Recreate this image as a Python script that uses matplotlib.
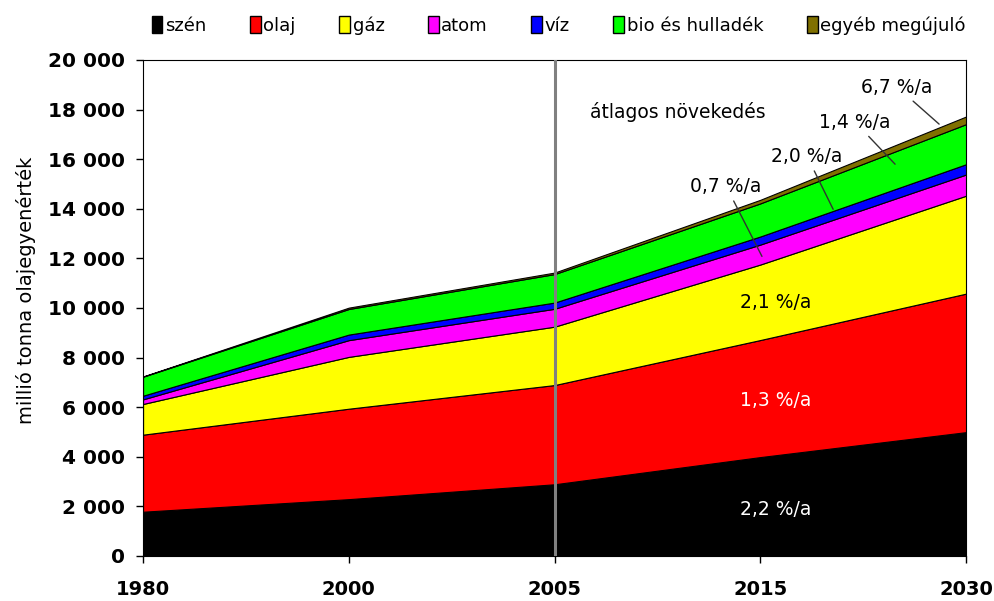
import matplotlib.pyplot as plt
from matplotlib.patches import Rectangle
from matplotlib.ticker import FuncFormatter

years = ["1980", "2000", "2005", "2015", "2030"]
szen = [1785, 2292, 2892, 3988, 4994]
olaj = [3107, 3647, 4000, 4720, 5585]
gaz = [1237, 2089, 2354, 3044, 3948]
atom = [186, 675, 721, 804, 854]
viz = [148, 225, 251, 327, 416]
bio = [765, 1031, 1149, 1334, 1615]
egyeb = [12, 55, 61, 145, 308]

labels = ["szén", "olaj", "gáz", "atom", "víz", "bio és hulladék", "egyéb megújuló"]
colors = ["#000000", "#ff0000", "#ffff00", "#ff00ff", "#0000ff", "#00ff00", "#807000"]

growth = ["2,2 %/a", "1,3 %/a", "2,1 %/a", "0,7 %/a", "2,0 %/a", "1,4 %/a", "6,7 %/a"]

plt.rcParams["font.family"] = ["DejaVu Sans"]

fig = plt.figure(figsize=(9.94, 6.01), dpi=100)
ax = fig.add_axes([0.1439, 0.0749, 0.8280, 0.8253])

x = list(range(len(years)))
ax.stackplot(x, szen, olaj, gaz, atom, viz, bio, egyeb, colors=colors,
             edgecolor="black", linewidth=0.8)
ax.axvline(2, color="#808080", lw=2.2, zorder=5)

ax.set_xlim(0, 4)
ax.set_ylim(0, 20000)
ax.set_xticks(x)
ax.set_xticklabels(years, fontweight="bold", fontsize=14)
ax.set_yticks(range(0, 20001, 2000))
ax.yaxis.set_major_formatter(FuncFormatter(lambda v, p: f"{int(v):,}".replace(",", " ")))
for t in ax.get_yticklabels():
    t.set_fontweight("bold")
    t.set_fontsize(14.5)
ax.tick_params(axis="both", direction="out", length=5, width=1)
ax.tick_params(axis="x", pad=12)
ax.tick_params(axis="y", pad=8)
ax.set_ylabel("millió tonna olajegyenérték", fontsize=14)
ax.yaxis.set_label_coords(-0.13, 0.535)

# growth labels inside the areas
fs = 13.5
ax.text(3.077, 1859, growth[0], color="white", fontsize=fs, ha="center", va="center")
ax.text(3.077, 6263, growth[1], color="white", fontsize=fs, ha="center", va="center")
ax.text(3.077, 10222, growth[2], color="black", fontsize=fs, ha="center", va="center")

arrow = dict(arrowstyle="-", color="#333333", lw=1, shrinkA=2, shrinkB=0)
ax.annotate(growth[3], xy=(3.008, 12081), xytext=(2.834, 14909), fontsize=fs,
            ha="center", va="center", arrowprops=arrow)
ax.annotate(growth[4], xy=(3.354, 13980), xytext=(3.227, 16121), fontsize=fs,
            ha="center", va="center", arrowprops=arrow)
ax.annotate(growth[5], xy=(3.655, 15798), xytext=(3.461, 17495), fontsize=fs,
            ha="center", va="center", arrowprops=arrow)
ax.annotate(growth[6], xy=(3.869, 17414), xytext=(3.665, 18909), fontsize=fs,
            ha="center", va="center", arrowprops=arrow)
ax.text(2.6, 17899, "átlagos növekedés", fontsize=fs, ha="center", va="center")

handles = [Rectangle((0, 0), 1, 1, facecolor=c, edgecolor="black", lw=1) for c in colors]
fig.legend(handles, labels, loc="upper right", bbox_to_anchor=(0.988, 1.0), ncol=7,
           frameon=False, fontsize=13, handlelength=0.6, handleheight=1.0,
           handletextpad=0.15, columnspacing=2.4)

fig.savefig("out.png", dpi=100)
